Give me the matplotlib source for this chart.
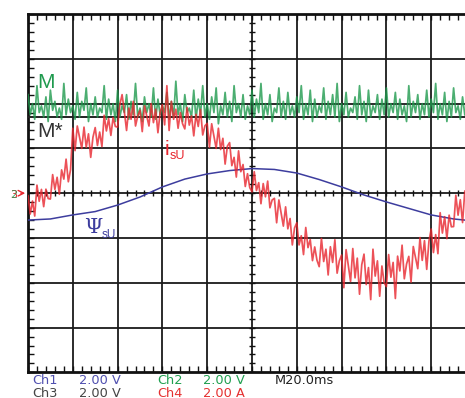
import numpy as np
import matplotlib
matplotlib.use("Agg")
import matplotlib.pyplot as plt

# ---- data (time in ms, 20 ms/div; all channels 2 units/div, zero at centre) ----
t_step_ms = 1.0
# Ch4: stator current i_sU [A], sampled every 1 ms
i_su = [
    -0.11, -0.93, -0.35, -1.02, 0.36, -0.36, 0.17, -0.60, 0.18, -0.24,
    -0.26, 0.83, 0.17, 0.71, -0.05, 1.04, 0.63, 1.52, 0.51, 1.05,
    2.9, 1.9, 3.0, 2.5, 2.0, 2.95, 2.05, 2.65, 1.6, 2.5,
    2.93, 2.13, 2.73, 2.08, 3.48, 2.78, 3.33, 2.58, 3.38, 2.98,
    2.95, 3.95, 4.4, 3.65, 2.8, 3.8, 3.3, 4.1, 3.0, 3.45,
    3.7, 2.75, 3.9, 3.45, 3.0, 4.0, 3.15, 3.75, 2.7, 3.6,
    3.95, 3.05, 4.8, 2.8, 4.1, 3.3, 3.75, 2.9, 3.6, 3.1,
    2.87, 3.83, 3.04, 3.45, 2.56, 3.52, 2.98, 3.74, 2.6, 3.01,
    3.12, 2.05, 3.1, 2.55, 2.0, 2.9, 1.95, 2.45, 1.3, 2.1,
    2.26, 1.23, 1.6, 0.72, 1.89, 0.96, 1.28, 0.3, 0.87, 0.25,
    0.06, 0.96, 0.12, 0.47, -0.47, 0.43, -0.16, 0.54, -0.65, -0.3,
    -0.23, -1.32, -0.3, -0.89, -1.47, -0.61, -1.59, -1.13, -2.31, -1.55,
    -1.32, -2.31, -1.9, -2.74, -1.53, -2.43, -2.07, -3.01, -2.4, -2.99,
    -3.28, -2.02, -3.05, -2.5, -3.65, -2.39, -3.09, -2.08, -3.57, -3.02,
    -2.76, -4.22, -2.52, -3.22, -3.94, -2.47, -3.78, -2.9, -4.51, -3.19,
    -2.72, -4.08, -3.32, -4.75, -2.5, -3.7, -3.02, -4.6, -3.25, -4.0,
    -4.17, -2.74, -3.75, -3.09, -4.7, -2.81, -3.47, -2.32, -3.82, -3.16,
    -2.82, -3.97, -2.38, -2.87, -3.37, -1.98, -3.0, -2.12, -3.4, -2.14,
    -1.6, -2.65, -1.85, -2.7, -0.87, -1.78, -1.05, -2.03, -0.98, -1.5,
    -1.49, -0.09, -0.98, -0.29, -1.31, 0.09,
]
# Ch2: torque M [V], sampled every 1 ms
m_torque = [
    4.4, 3.5, 4.0, 3.3, 4.8, 3.6, 3.9, 3.4, 4.3, 3.2, 4.6, 3.7, 4.1, 3.4, 3.8, 3.3, 4.9, 3.5, 4.2, 3.6,
    3.9, 3.3, 4.5, 3.4, 4.1, 3.7, 4.7, 3.2, 4.0, 3.5, 4.3, 3.4, 3.8, 3.6, 4.8, 3.3, 4.2, 3.5, 4.0, 3.2,
    4.6, 3.4, 3.9, 3.6, 4.4, 3.3, 4.1, 3.5, 4.9, 3.4, 3.8, 3.2, 4.3, 3.6, 4.0, 3.4, 4.7, 3.3, 4.2, 3.5,
    3.9, 3.6, 4.5, 3.3, 4.1, 3.4, 5.0, 3.5, 4.0, 3.2, 4.4, 3.6, 3.8, 3.4, 4.6, 3.3, 4.2, 3.5, 4.8, 3.4,
    4.0, 3.3, 4.3, 3.6, 4.7, 3.1, 3.9, 3.5, 4.5, 3.4, 4.1, 3.2, 4.8, 3.6, 4.0, 3.4, 4.4, 3.3, 3.9, 3.5,
    4.6, 3.4, 4.2, 3.6, 4.9, 3.3, 4.0, 3.5, 4.4, 3.2, 3.8, 3.6, 4.7, 3.4, 4.1, 3.3, 4.5, 3.5, 3.9, 3.4,
    4.3, 3.6, 4.8, 3.3, 4.0, 3.5, 4.6, 3.2, 4.2, 3.4, 3.9, 3.6, 4.7, 3.3, 4.1, 3.5, 4.4, 3.4, 4.9, 3.2,
    4.0, 3.5, 4.5, 3.4, 3.8, 3.6, 4.3, 3.3, 4.8, 3.5, 4.1, 3.2, 4.6, 3.4, 3.9, 3.6, 4.4, 3.3, 4.2, 3.5,
    4.7, 3.4, 4.0, 3.6, 4.5, 3.3, 4.2, 3.5, 3.9, 3.2, 4.8, 3.4, 4.1, 3.6, 4.4, 3.3, 4.0, 3.5, 4.6, 3.4,
    4.2, 3.6, 4.9, 3.3, 4.0, 3.5, 4.5, 3.2, 4.1, 3.4, 4.7, 3.6, 3.9, 3.3, 4.3, 3.5,
]
# Ch3: reference torque M* [V] (constant)
m_ref = 3.42
# Ch1: stator flux Psi_sU [V], sampled every 10 ms
psi_t = [0, 10, 20, 30, 40, 50, 60, 70, 80, 90, 100, 110, 120, 130, 140, 150, 160, 170, 180, 190, 195]
psi_su = [-1.20, -1.15, -0.97, -0.82, -0.53, -0.17, 0.28, 0.63, 0.86, 1.01, 1.10,
          1.06, 0.90, 0.61, 0.28, -0.08, -0.39, -0.68, -0.97, -1.15, -1.20]

# ---- figure ----
W, H = 465, 398
fig = plt.figure(figsize=(W / 100, H / 100), dpi=100)
fig.patch.set_facecolor("white")
x0, x1, y0, y1 = 28, 476, 14, 372.4
ax = fig.add_axes([x0 / W, 1 - y1 / H, (x1 - x0) / W, (y1 - y0) / H])
ax.set_xlim(0, 200)
ax.set_ylim(-8, 8)

gc = "#1a1a1a"
for xv in range(20, 200, 20):
    ax.axvline(xv, color=gc, lw=1.3, zorder=1)
for yv in range(-6, 8, 2):
    ax.axhline(yv, color=gc, lw=1.3, zorder=1)
for s in ax.spines.values():
    s.set_linewidth(2.0)
    s.set_color("#111")

ax.set_xticks([])
ax.set_yticks([])
ax.set_xticks(np.arange(0, 200.1, 4), minor=True)
ax.set_yticks(np.arange(-8, 8.01, 0.4), minor=True)
ax.tick_params(which="minor", direction="in", length=4, width=1.0, color="#111",
               top=True, bottom=True, left=True, right=False,
               labelbottom=False, labelleft=False)

# centre-line ticks
cx = np.arange(0, 200.1, 4)
ax.plot(cx, np.zeros_like(cx), ls="none", marker="|", ms=5, mew=1.0, color="#111", zorder=2)
cy = np.arange(-8, 8.01, 0.4)
ax.plot(np.full_like(cy, 100), cy, ls="none", marker="_", ms=5, mew=1.0, color="#111", zorder=2)

t = np.arange(len(i_su)) * t_step_ms
tm = np.arange(len(m_torque)) * t_step_ms

ax.axhline(m_ref, color="#222222", lw=1.4, zorder=3)
ax.plot(tm, m_torque, color="#1f9a4e", lw=1.25, alpha=0.8, zorder=4)
ax.plot(psi_t, psi_su, color="#3d3d9e", lw=1.1, zorder=5)
ax.plot(t, i_su, color="#e8262e", lw=1.25, alpha=0.8, zorder=6)

# ---- labels ----
def ftext(px, py, s, **kw):
    fig.text(px / W, 1 - py / H, s, **kw)

ftext(37, 88, "M", color="#1f9a4e", fontsize=15, family="Liberation Sans", va="baseline")
ftext(37, 137, "M*", color="#333333", fontsize=15, family="Liberation Sans", va="baseline")
ftext(165, 155, "i", color="#e8262e", fontsize=15, family="Liberation Sans", va="baseline")
ftext(170, 159, "sU", color="#e8262e", fontsize=9, family="Liberation Sans", va="baseline")
ftext(84, 233, "Ψ", color="#3d3d9e", fontsize=15, family="DejaVu Serif", va="baseline")
ftext(102, 238, "sU", color="#3d3d9e", fontsize=8.5, family="Liberation Sans", va="baseline")

# channel markers at left
ftext(10, 198, "3", color="#e8262e", fontsize=8, family="DejaVu Sans", va="baseline")
ftext(10, 198, "2", color="#1f9a4e", fontsize=8, family="DejaVu Sans", va="baseline", alpha=0.8)
ax.annotate("", xy=(x0 / W, 1 - 193.2 / H), xytext=(18 / W, 1 - 193.2 / H),
            xycoords="figure fraction", textcoords="figure fraction",
            arrowprops=dict(arrowstyle="->", color="#e8262e", lw=1.0))

fs = 9.3
blue_t, green_t, gray_t, red_t = "#5050b0", "#20a050", "#444444", "#e53030"
r1, r2 = 384.0, 397.0
ftext(32, r1, "Ch1", color=blue_t, fontsize=fs, va="baseline")
ftext(79, r1, "2.00 V", color=blue_t, fontsize=fs, va="baseline")
ftext(157, r1, "Ch2", color=green_t, fontsize=fs, va="baseline")
ftext(203, r1, "2.00 V", color=green_t, fontsize=fs, va="baseline")
ftext(275, r1, "M20.0ms", color="#222222", fontsize=fs, va="baseline")
ftext(32, r2, "Ch3", color=gray_t, fontsize=fs, va="baseline")
ftext(79, r2, "2.00 V", color=gray_t, fontsize=fs, va="baseline")
ftext(157, r2, "Ch4", color=red_t, fontsize=fs, va="baseline")
ftext(203, r2, "2.00 A", color=red_t, fontsize=fs, va="baseline")

fig.savefig("out.png", dpi=100)
